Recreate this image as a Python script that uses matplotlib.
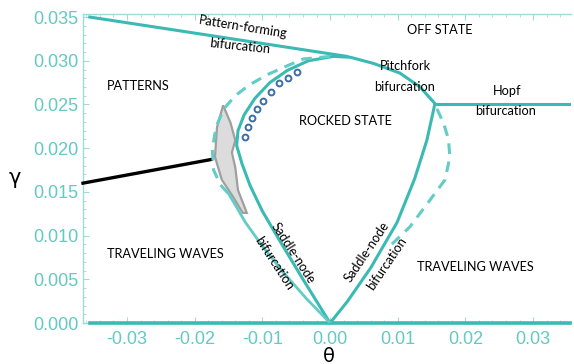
import numpy as np
import matplotlib.pyplot as plt
from matplotlib.ticker import MultipleLocator, FormatStrFormatter

# bifurcation lines in the (theta, gamma) plane
pattern_theta = [-0.0355, 0.0025]
pattern_gamma = [0.0350, 0.0305]

hopf_theta = [0.0155, 0.0355]
hopf_gamma = [0.0251, 0.0251]

base_theta = [-0.0355, 0.0355]
base_gamma = [0.0, 0.0]

# rocked-state boundary: left saddle-node, pitchfork arc, right saddle-node
rock_theta = [0.0, -0.0040, -0.0075, -0.0100, -0.0118, -0.0130, -0.0138, -0.0136,
              -0.0127, -0.0111, -0.0089, -0.0063, -0.0032, 0.0005, 0.0030, 0.0064,
              0.0103, 0.0133, 0.0155, 0.0143, 0.0125, 0.0099, 0.0060, 0.0025, 0.0]
rock_gamma = [0.0, 0.0050, 0.0095, 0.0128, 0.0157, 0.0182, 0.0203, 0.0220,
              0.0238, 0.0257, 0.0275, 0.0289, 0.0300, 0.0305, 0.0304, 0.0297,
              0.0286, 0.0270, 0.0251, 0.0209, 0.0165, 0.0115, 0.0063, 0.0024, 0.0]

# dashed boundaries
dash_left_theta = [0.0, -0.0040, -0.0064, -0.0093, -0.0120, -0.0140, -0.0157,
                   -0.0168, -0.0174, -0.0172, -0.0162, -0.0150]
dash_left_gamma = [0.0305, 0.0302, 0.0294, 0.0284, 0.0272, 0.0260, 0.0245,
                   0.0225, 0.0200, 0.0175, 0.0158, 0.0148]
light_theta = [-0.0150, -0.0140, -0.0125, -0.0100, -0.0068, -0.0035, 0.0]
light_gamma = [0.0148, 0.0135, 0.0115, 0.0088, 0.0057, 0.0028, 0.0]

dash_right_theta = [0.0158, 0.0168, 0.0175, 0.0177, 0.0170, 0.0148, 0.0118, 0.0091]
dash_right_gamma = [0.0245, 0.0228, 0.0210, 0.0190, 0.0164, 0.0141, 0.0110, 0.0090]

# coexistence region (gray)
gray_theta = [-0.0158, -0.0167, -0.0170, -0.0160, -0.0143, -0.0129, -0.0123,
              -0.0136, -0.0140, -0.0145, -0.0140, -0.0147]
gray_gamma = [0.0249, 0.0224, 0.0190, 0.0164, 0.0144, 0.0126, 0.0126,
              0.0152, 0.0178, 0.0195, 0.0209, 0.0229]

# black line
black_theta = [-0.0365, -0.0176]
black_gamma = [0.0160, 0.0187]

# open circles
circ_theta = [-0.0126, -0.0121, -0.0115, -0.0108, -0.0099, -0.0087, -0.0075, -0.0062, -0.0049]
circ_gamma = [0.0213, 0.0224, 0.0235, 0.0245, 0.0254, 0.0264, 0.0275, 0.0280, 0.0287]

teal = '#3bbab4'
teal_light = '#62ccc6'
tick_col = '#63c9c4'
spine_col = '#9fdcd8'

fig = plt.figure(figsize=(5.74, 3.64), dpi=100)
ax = fig.add_axes([83 / 574, 1 - 323 / 364, (571 - 83) / 574, (323 - 14) / 364])

ax.fill(gray_theta, gray_gamma, facecolor='#dcdcdc', edgecolor='#9f9f9f', lw=1.6, zorder=2)
ax.plot(black_theta, black_gamma, color='black', lw=2.4, zorder=3, clip_on=False)

ax.plot(pattern_theta, pattern_gamma, color=teal, lw=2.2, zorder=3)
ax.plot(hopf_theta, hopf_gamma, color=teal, lw=2.2, zorder=3)
ax.plot(base_theta, base_gamma, color=teal, lw=2.6, zorder=3, clip_on=False)
ax.plot(rock_theta, rock_gamma, color=teal, lw=2.2, zorder=3)
ax.plot(dash_left_theta, dash_left_gamma, color=teal_light, lw=2.2, ls=(0, (3.5, 2.5)), zorder=3)
ax.plot(light_theta, light_gamma, color=teal_light, lw=2.0, zorder=3)
ax.plot(dash_right_theta, dash_right_gamma, color=teal_light, lw=2.2, ls=(0, (3.5, 2.5)), zorder=3)

ax.plot(circ_theta, circ_gamma, 'o', ms=4.2, mfc='none', mec='#3e6ea8', mew=1.4, zorder=4)

ax.set_xlim(-0.0365, 0.0356)
ax.set_ylim(0, 0.03535)

ax.xaxis.set_major_locator(MultipleLocator(0.01))
ax.xaxis.set_minor_locator(MultipleLocator(0.002))
ax.yaxis.set_major_locator(MultipleLocator(0.005))
ax.yaxis.set_minor_locator(MultipleLocator(0.001))
ax.xaxis.set_major_formatter(FormatStrFormatter('%.2f'))
ax.yaxis.set_major_formatter(FormatStrFormatter('%.3f'))

for s in ['left', 'top', 'bottom']:
    ax.spines[s].set_color(spine_col)
    ax.spines[s].set_linewidth(1.0)
ax.spines['right'].set_visible(False)

ax.tick_params(which='both', direction='in', top=True, right=False, color=spine_col,
               labelcolor=tick_col)
ax.tick_params(which='major', length=4, width=0.8)
ax.tick_params(which='minor', length=2.2, width=0.6)
ax.tick_params(axis='x', pad=6)
ax.tick_params(axis='y', pad=3)
for lab in ax.get_xticklabels() + ax.get_yticklabels():
    lab.set_fontfamily('Liberation Sans')
    lab.set_fontsize(13)

fig.text(15 / 574, 1 - 178 / 364, 'γ', fontsize=15, ha='center', va='center')
fig.text(329 / 574, 1 - 356 / 364, 'θ', fontsize=14, ha='center', va='center')

# region and bifurcation labels
lab_font = dict(family='Lato', fontsize=9.2, color='black', ha='center', va='center')

def put(px, py, s, rot=0):
    fig.text(px / 574, 1 - py / 364, s, rotation=rot, rotation_mode='anchor', **lab_font)

put(243, 27, 'Pattern-forming', -9)
put(240, 46, 'bifurcation', -6)
put(440, 30, 'OFF STATE')
put(405, 66, 'Pitchfork')
put(405, 87, 'bifurcation')
put(507, 91, 'Hopf')
put(506, 111, 'bifurcation')
put(138, 86, 'PATTERNS')
put(345, 121, 'ROCKED STATE')
put(165, 254, 'TRAVELING WAVES')
put(475, 267, 'TRAVELING WAVES')
put(293, 253, 'Saddle-node', -57)
put(274, 263, 'bifurcation', -57)
put(367, 252, 'Saddle-node', 56)
put(387, 264, 'bifurcation', 56)

fig.savefig('out.png', dpi=100)
